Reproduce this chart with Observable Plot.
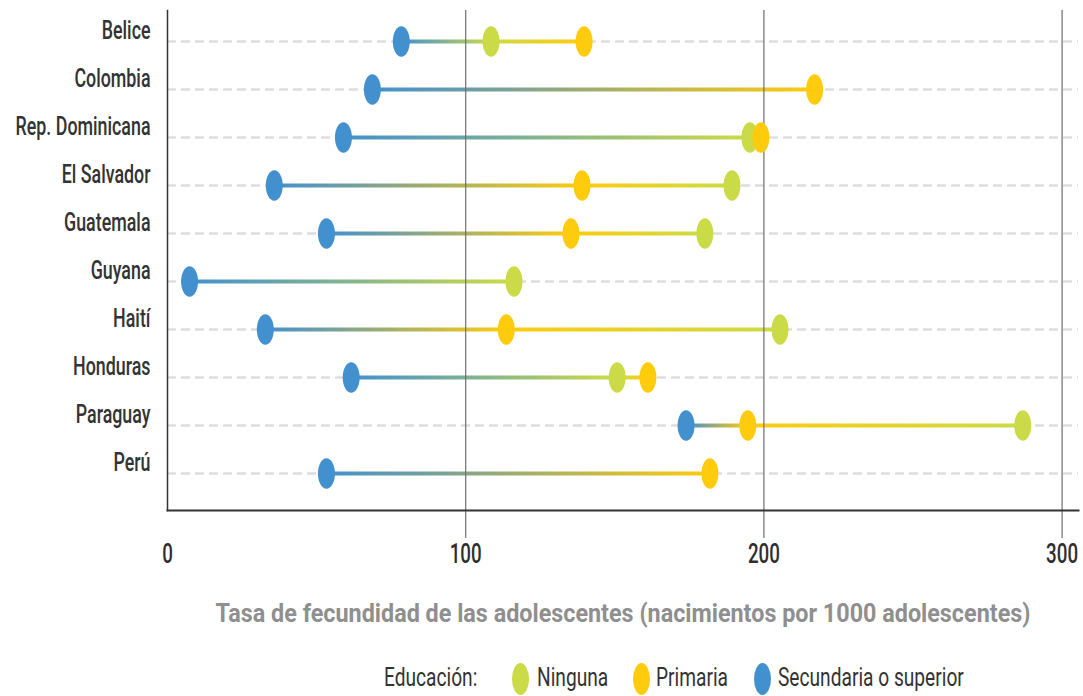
<!DOCTYPE html>
<html>
<head>
<meta charset="utf-8">
<script src="https://cdn.jsdelivr.net/npm/d3@7"></script>
<script src="https://cdn.jsdelivr.net/npm/@observablehq/plot@0.6"></script>
<style>
  html, body { margin: 0; padding: 0; background: #fff; }
  #chart { width: 1083px; }
  #legend { position: relative; height: 56px; width: 1083px; font-family: Roboto, "Noto Sans", sans-serif; font-size: 25px; color: #333; }
  #legend .t { position: absolute; top: 23px; line-height: 30px; white-space: nowrap; transform-origin: left center; }
  #legend .sw { position: absolute; top: 23px; width: 17px; height: 32px; border-radius: 50%; }
</style>
</head>
<body>
<div id="chart"></div>
<div id="legend"></div>
<script>
const countries = ["Belice","Colombia","Rep. Dominicana","El Salvador","Guatemala","Guyana","Haití","Honduras","Paraguay","Perú"];
const ninguna    = [108.5, null, 195.3, 189.3, 180.2, 116.2, 205.4, 150.8, 286.8, null];
const primaria   = [139.7, 217.0, 199.0, 139.0, 135.3, null, 113.6, 161.1, 194.6, 181.9];
const secundaria = [78.4, 68.7, 59.0, 35.8, 53.3, 7.4, 32.8, 61.6, 173.9, 53.3];
const levels = ["Ninguna", "Primaria", "Secundaria o superior"];
const colors = ["#cbdb47", "#ffcb0d", "#4390cf"];
const xTicks = [0, 100, 200, 300];
const xTitle = "Tasa de fecundidad de las adolescentes (nacimientos por 1000 adolescentes)";
const legendTitle = "Educación:";

const series = [ninguna, primaria, secundaria];
const points = [];
countries.forEach((c, i) => {
  series.forEach((s, k) => {
    if (s[i] != null) points.push({country: c, value: s[i], level: levels[k], color: colors[k], order: k});
  });
});
const segments = [];
countries.forEach(c => {
  const ps = points.filter(p => p.country === c).sort((a, b) => a.value - b.value);
  for (let j = 0; j < ps.length - 1; j++) {
    segments.push({country: c, x1: ps[j].value, x2: ps[j + 1].value, c1: ps[j].color, c2: ps[j + 1].color});
  }
});
const dotsOrdered = points.slice().sort((a, b) => a.order - b.order);

const ellipse = {
  draw(ctx, size) {
    const rx = Math.sqrt(size / Math.PI), ry = rx * 1.8, k = 0.5523;
    ctx.moveTo(rx, 0);
    ctx.bezierCurveTo(rx, ry * k, rx * k, ry, 0, ry);
    ctx.bezierCurveTo(-rx * k, ry, -rx, ry * k, -rx, 0);
    ctx.bezierCurveTo(-rx, -ry * k, -rx * k, -ry, 0, -ry);
    ctx.bezierCurveTo(rx * k, -ry, rx, -ry * k, rx, 0);
    ctx.closePath();
  }
};

const chart = Plot.plot({
  width: 1083,
  height: 640,
  marginLeft: 167,
  marginRight: 5,
  marginTop: 10,
  marginBottom: 130,
  style: {fontFamily: 'Roboto, "Noto Sans", sans-serif', background: "#fff"},
  x: {domain: [0, 305.5]},
  y: {type: "point", domain: countries, range: [40, 474], padding: 0},
  marks: [
    Plot.ruleY(countries, {y: d => d, stroke: "#dedede", strokeWidth: 2.5, strokeDasharray: "9,5"}),
    Plot.link(segments, {
      x1: "x1", x2: "x2", y1: "country", y2: "country",
      stroke: "#888", strokeWidth: 4,
      render(index, scales, values, dimensions, context, next) {
        const g = next(index, scales, values, dimensions, context);
        const ns = "http://www.w3.org/2000/svg";
        const defs = document.createElementNS(ns, "defs");
        const paths = g.querySelectorAll("path");
        Array.from(index).forEach((i, j) => {
          const lg = document.createElementNS(ns, "linearGradient");
          const id = "seg-grad-" + i;
          lg.setAttribute("id", id);
          lg.setAttribute("gradientUnits", "userSpaceOnUse");
          lg.setAttribute("x1", values.x1[i]);
          lg.setAttribute("x2", values.x2[i]);
          lg.setAttribute("y1", 0);
          lg.setAttribute("y2", 0);
          [[0, segments[i].c1], [1, segments[i].c2]].forEach(([o, c]) => {
            const st = document.createElementNS(ns, "stop");
            st.setAttribute("offset", o);
            st.setAttribute("stop-color", c);
            lg.appendChild(st);
          });
          defs.appendChild(lg);
          if (paths[j]) paths[j].setAttribute("stroke", `url(#${id})`);
        });
        g.insertBefore(defs, g.firstChild);
        return g;
      }
    }),
    Plot.ruleX([100, 200, 300], {stroke: "#6e6e6e", strokeWidth: 1.2}),
    Plot.axisX({ticks: [100, 200, 300], tickSize: 28, stroke: "#6e6e6e", strokeWidth: 1.2, tickFormat: () => "", label: null}),
    Plot.axisX({ticks: xTicks, tickSize: 0, tickPadding: 33, fontSize: 27, fill: "#2e2e2e", fontWeight: 500, label: null}),
    Plot.frame({anchor: "left", stroke: "#333", strokeWidth: 1.5}),
    Plot.frame({anchor: "bottom", stroke: "#333", strokeWidth: 2}),
    Plot.axisY({tickSize: 0, tickPadding: 17, dy: -11, fontSize: 25, fill: "#333", fontWeight: 500, label: null}),
    Plot.text([xTitle], {frameAnchor: "bottom", dy: 111, fontSize: 25, fill: "#8f8f8f", fontWeight: "bold"}),
    Plot.dot(dotsOrdered, {x: "value", y: "country", fill: "color", r: 8.5, symbol: ellipse, stroke: "none"})
  ]
});
document.getElementById("chart").appendChild(chart);

// condense texts horizontally (the reference uses a tall, condensed face)
const texts = Array.from(chart.querySelectorAll("text"));
const find = s => texts.find(t => t.textContent === s);
const fit = (s, w, dflt) => { const el = find(s); return el ? w / el.getComputedTextLength() : dflt; };
const sxTitle = fit(xTitle, 815, 0.83);
const sxY = fit("Rep. Dominicana", 135, 0.66);
const sxTick = fit("100", 32, 0.68);
const countrySet = new Set(countries);
const tickSet = new Set(xTicks.map(String));
texts.forEach(t => {
  const txt = t.textContent;
  const s = countrySet.has(txt) ? sxY : tickSet.has(txt) ? sxTick : sxTitle;
  const xa = t.getAttribute("x");
  const x = (xa && /^-?[\d.]+$/.test(xa)) ? +xa : 0;
  const tr = t.getAttribute("transform") || "";
  t.setAttribute("transform", `${tr} translate(${x},0) scale(${s},1) translate(${-x},0)`.trim());
});

// legend
const legend = document.getElementById("legend");
const lsx = sxTitle * 0.82;
function addText(txt, left) {
  const s = document.createElement("span");
  s.className = "t";
  s.textContent = txt;
  s.style.left = left + "px";
  s.style.transform = `scaleX(${lsx})`;
  legend.appendChild(s);
}
function addSwatch(color, left) {
  const s = document.createElement("span");
  s.className = "sw";
  s.style.left = left + "px";
  s.style.background = color;
  legend.appendChild(s);
}
addText(legendTitle, 384);
addSwatch(colors[0], 512); addText(levels[0], 537);
addSwatch(colors[1], 633); addText(levels[1], 656);
addSwatch(colors[2], 754); addText(levels[2], 778);
</script>
</body>
</html>
